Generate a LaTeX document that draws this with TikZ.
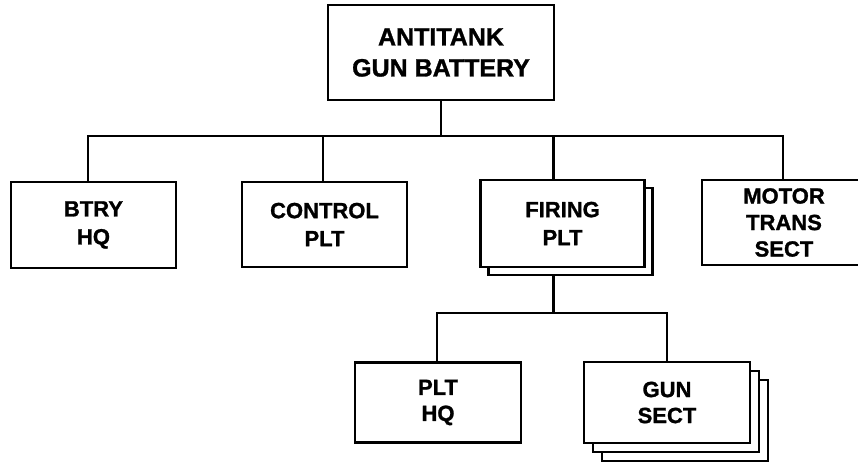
\documentclass[tikz,border=0pt]{standalone}
\usepackage{fontspec}
\setmainfont{Liberation Sans}[BoldFeatures={FakeBold=1.2}]
\begin{document}
\begin{tikzpicture}[x=1pt,y=-1pt,
  box/.style={draw=black,line width=2.6pt,fill=white,rectangle,inner sep=0pt,align=center,
    font=\fontsize{22}{28}\selectfont\bfseries},
  shadowbox/.style={draw=black,line width=2.6pt,fill=white,rectangle,inner sep=0pt},
  link/.style={draw=black,line width=2.4pt}]
\useasboundingbox (0,0) rectangle (858,461);
\clip (0,0) rectangle (858,461);
\fill[white] (0,0) rectangle (858,461);
\coordinate (bus) at (0,136);
\coordinate (bus2) at (0,313);
% top
\node[box,minimum width=226pt,minimum height=95pt,font=\fontsize{25}{31}\selectfont\bfseries] (top) at (441,52.5) {ANTITANK\\GUN BATTERY};
% level 2
\node[box,minimum width=165pt,minimum height=86pt] (btry) at (93.5,225) {BTRY\\HQ};
\node[box,minimum width=165pt,minimum height=85pt] (control) at (324.5,224.5) {CONTROL\\PLT};
\node[shadowbox,minimum width=164pt,minimum height=87pt] (firingsh) at (570.5,231.5) {};
\node[box,minimum width=164pt,minimum height=87pt] (firing) at (562.5,223.5) {FIRING\\PLT};
\node[box,minimum width=164pt,minimum height=85pt,font=\fontsize{22}{26.5}\selectfont\bfseries] (motor) at (784,222.5) {MOTOR\\TRANS\\SECT};
% level 3
\node[box,minimum width=166pt,minimum height=80pt,font=\fontsize{22}{26}\selectfont\bfseries] (plthq) at (438,402.5) {PLT\\HQ};
\node[shadowbox,minimum width=166pt,minimum height=81pt] (gunsh2) at (685,420.5) {};
\node[shadowbox,minimum width=166pt,minimum height=81pt] (gunsh1) at (676,411.5) {};
\node[box,minimum width=166pt,minimum height=81pt,font=\fontsize{22}{26}\selectfont\bfseries] (gun) at (667,402.5) {GUN\\SECT};
% connectors level 1-2
\draw[link] (top.south) -- (top.south |- bus);
\draw[link] ([xshift=-5.5pt]btry.north) -- ([xshift=-5.5pt]btry.north |- bus) -- ([xshift=-1pt]motor.north |- bus) -- ([xshift=-1pt]motor.north);
\draw[link] ([xshift=-1.5pt]control.north) -- ([xshift=-1.5pt]control.north |- bus);
\draw[link] ([xshift=-9pt]firing.north) -- ([xshift=-9pt]firing.north |- bus);
% connectors level 2-3
\draw[link] ([xshift=-17pt]firingsh.south) -- ([xshift=-17pt]firingsh.south |- bus2);
\draw[link] ([xshift=-1pt]plthq.north) -- ([xshift=-1pt]plthq.north |- bus2) -- (gun.north |- bus2) -- (gun.north);
\end{tikzpicture}
\end{document}
